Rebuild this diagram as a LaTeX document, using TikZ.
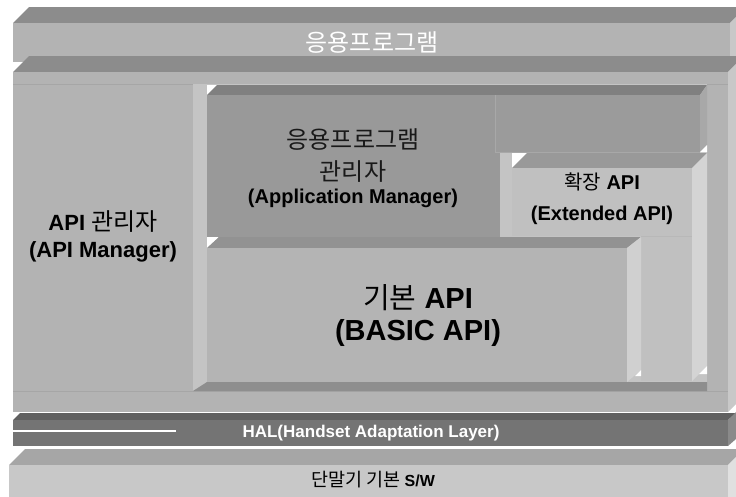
\documentclass[tikz,border=0pt]{standalone}
\usepackage{fontspec}
\setmainfont{Liberation Sans}
\newfontfamily\kr{Noto Sans CJK KR}
\newcommand{\hg}[1]{{\kr\mdseries #1}}
\definecolor{topc}{HTML}{8C8C8C}
\definecolor{frontc}{HTML}{B3B3B3}
\definecolor{sidec}{HTML}{C8C8C8}
\definecolor{linec}{HTML}{A6A6A6}
\definecolor{wallc}{HTML}{C4C4C4}
\definecolor{floorc}{HTML}{8E8E8E}
\definecolor{amtopc}{HTML}{808080}
\definecolor{amc}{HTML}{999999}
\definecolor{amsidec}{HTML}{A8A8A8}
\definecolor{extc}{HTML}{C0C0C0}
\definecolor{extsidec}{HTML}{D4D4D4}
\definecolor{bsc}{HTML}{B4B4B4}
\definecolor{bssidec}{HTML}{D0D0D0}
\definecolor{haltopc}{HTML}{606060}
\definecolor{halc}{HTML}{747474}
\definecolor{halsidec}{HTML}{8A8A8A}
\definecolor{swtopc}{HTML}{A6A6A6}
\definecolor{swc}{HTML}{C8C8C8}
\definecolor{swsidec}{HTML}{E0E0E0}
\begin{document}
\begin{tikzpicture}[x=1pt,y=-1pt,line join=miter,line cap=butt]
	\tikzset{lbl/.style={inner sep=0pt,anchor=center,align=center},
		sz/.style={font=\fontsize{#1}{#1}\selectfont},
		bsz/.style={font=\fontsize{#1}{#1}\selectfont\bfseries}}
	\useasboundingbox (0,0) rectangle (736,496);
	\clip (0,0) rectangle (736,496);
	\fill[topc] (13,23)--(29,7)--(746,7)--(730,23)--cycle;
	\fill[frontc] (13,23) rectangle (730,62);
	\fill[sidec] (730,23)--(746,7)--(746,46)--(730,62)--cycle;
	\fill[topc] (13,72)--(29,56)--(744,56)--(728,72)--cycle;
	\fill[frontc] (13,72) rectangle (728,412);
	\fill[sidec] (728,72)--(744,56)--(744,396)--(728,412)--cycle;
	\draw[linec,line width=.8] (13,84)--(728,84) (13,391)--(728,391);
	\fill[wallc] (193,84) rectangle (707,391);
	\fill[floorc] (193,391)--(207,382)--(707,382)--(707,391)--cycle;
	\fill[white] (207,85)--(217,85)--(207,95)--cycle;
	\fill[amtopc] (207,95)--(217,85)--(707,85)--(700,95)--cycle;
	\fill[amc] (207,95) rectangle (500,238);
	\fill[amc!98!white] (495,95) rectangle (700,152);
	\draw[amc!85!white,line width=.6] (495,95)--(495,152)--(700,152);
	\fill[amsidec] (700,95)--(707,85)--(707,145)--(700,152)--cycle;
	\fill[white] (707,145)--(707,152)--(700,152)--cycle;
	\fill[white] (512,153)--(527,153)--(512,168)--cycle;
	\fill[amc] (512,168)--(527,153)--(707,153)--(692,168)--cycle;
	\fill[extc] (512,168) rectangle (692,236);
	\fill[extc] (641,236) rectangle (692,381);
	\draw[linec!80!white,line width=.6] (641,236)--(692,236);
	\fill[extsidec] (692,168)--(707,153)--(707,366)--(692,381)--cycle;
	\fill[white] (707,366)--(707,374)--(699,374)--cycle;
	\fill[white] (207,237)--(219,237)--(207,248)--cycle;
	\fill[topc!95!white] (207,248)--(219,237)--(641,237)--(627,248)--cycle;
	\fill[bsc] (207,248) rectangle (627,382);
	\fill[bssidec] (627,248)--(641,237)--(641,370)--(627,382)--cycle;
	\fill[white] (641,370)--(641,376)--(635,376)--cycle;
	\fill[haltopc] (13,420)--(20,413)--(736,413)--(728,420)--cycle;
	\fill[halc] (13,420) rectangle (728,446);
	\fill[halsidec] (728,420)--(736,412)--(736,439)--(728,446)--cycle;
	\draw[white,line width=1.2] (13,431)--(176,431);
	\fill[swtopc] (9,465)--(25,449)--(744,449)--(728,465)--cycle;
	\fill[swc] (9,465) rectangle (728,500);
	\fill[swsidec] (728,465)--(744,449)--(744,500)--(728,500)--cycle;
	\node[lbl,sz=24,white] (apptop) at (372,43) {\hg{응용프로그램}};
	\node[lbl,sz=24,black!90] (am1) at (353,140) {\hg{응용프로그램}};
	\node[lbl,sz=24,black!90] (am2) at (353,172) {\hg{관리자}};
	\node[lbl,bsz=20] (am3) at (353,198) {(Application Manager)};
	\node[lbl,sz=20] (ext1) at (602,182) {\hg{\fontsize{20}{20}\selectfont 확장} \textbf{API}};
	\node[lbl,bsz=20] (ext2) at (602,215) {(Extended API)};
	\node[lbl,sz=22] (api1) at (103,222) {\textbf{API} \hg{\fontsize{24}{24}\selectfont 관리자}};
	\node[lbl,bsz=22] (api2) at (103,252) {(API Manager)};
	\node[lbl,sz=29] (bs1) at (418,298) {\hg{\fontsize{29}{29}\selectfont 기본} \textbf{API}};
	\node[lbl,bsz=29] (bs2) at (418,333) {(BASIC API)};
	\node[lbl,bsz=17,white] (hal) at (371,433) {HAL(Handset Adaptation Layer)};
	\node[lbl,sz=16] (sw) at (373,480) {\hg{\fontsize{18.5}{18.5}\selectfont 단말기 기본} \textbf{S/W}};
\end{tikzpicture}
\end{document}
